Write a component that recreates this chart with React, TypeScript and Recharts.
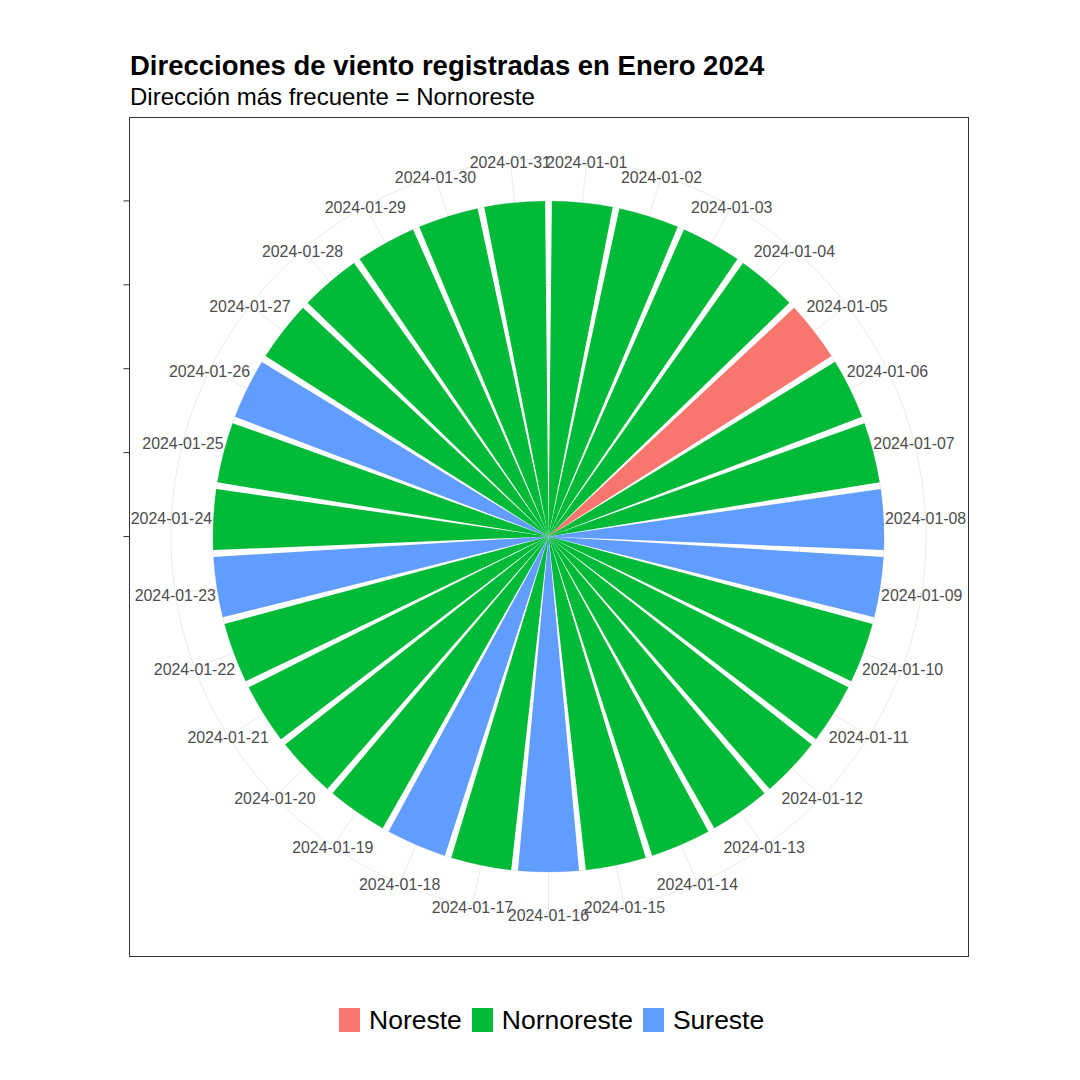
import React from "react";
import { PieChart, Pie, Cell } from "recharts";

const DATES = [
  "2024-01-01", "2024-01-02", "2024-01-03", "2024-01-04", "2024-01-05",
  "2024-01-06", "2024-01-07", "2024-01-08", "2024-01-09", "2024-01-10",
  "2024-01-11", "2024-01-12", "2024-01-13", "2024-01-14", "2024-01-15",
  "2024-01-16", "2024-01-17", "2024-01-18", "2024-01-19", "2024-01-20",
  "2024-01-21", "2024-01-22", "2024-01-23", "2024-01-24", "2024-01-25",
  "2024-01-26", "2024-01-27", "2024-01-28", "2024-01-29", "2024-01-30",
  "2024-01-31",
];

const DIRECTIONS = [
  "Nornoreste", "Nornoreste", "Nornoreste", "Nornoreste", "Noreste",
  "Nornoreste", "Nornoreste", "Sureste", "Sureste", "Nornoreste",
  "Nornoreste", "Nornoreste", "Nornoreste", "Nornoreste", "Nornoreste",
  "Sureste", "Nornoreste", "Sureste", "Nornoreste", "Nornoreste",
  "Nornoreste", "Nornoreste", "Sureste", "Nornoreste", "Nornoreste",
  "Sureste", "Nornoreste", "Nornoreste", "Nornoreste", "Nornoreste",
  "Nornoreste",
];

// one record per day
const COUNTS = [
  1, 1, 1, 1, 1, 1, 1, 1, 1, 1, 1, 1, 1, 1, 1, 1,
  1, 1, 1, 1, 1, 1, 1, 1, 1, 1, 1, 1, 1, 1, 1,
];

const CATEGORIES = ["Noreste", "Nornoreste", "Sureste"];
const PALETTE = ["#F8766D", "#00BA38", "#619CFF"];
const RADIAL_TICKS = [0, 0.25, 0.5, 0.75, 1];

const data = DATES.map((d, i) => ({ fecha: d, direccion: DIRECTIONS[i], n: COUNTS[i] }));
const colorOf = (dir: string) => PALETTE[CATEGORIES.indexOf(dir)];

const FONT = '"Liberation Sans", Arial, Helvetica, sans-serif';

// panel geometry
const PX = 129;
const PY = 117;
const PW = 839;
const PH = 839;
const CX = PW / 2;
const CY = PH / 2;
const R = 0.4 * PW;
const R_OUT = 0.45 * PW;
const STEP = 360 / data.length;
const GAP = STEP * 0.1;
const RAD = Math.PI / 180;

function Grid() {
  const gx = PX + CX;
  const gy = PY + CY;
  return (
    <svg width={1080} height={1080} style={{ position: "absolute", left: 0, top: 0 }}>
      {RADIAL_TICKS.map((t) => (
        <circle key={t} cx={gx} cy={gy} r={t * R} fill="none" stroke="#EBEBEB" strokeWidth={1} />
      ))}
      <circle cx={gx} cy={gy} r={R_OUT} fill="none" stroke="#EBEBEB" strokeWidth={1} />
      {data.map((d, i) => {
        const a = (90 - (i + 0.5) * STEP) * RAD;
        return (
          <line
            key={d.fecha}
            x1={gx}
            y1={gy}
            x2={gx + R_OUT * Math.cos(a)}
            y2={gy - R_OUT * Math.sin(a)}
            stroke="#EBEBEB"
            strokeWidth={1}
          />
        );
      })}
      {RADIAL_TICKS.map((t) => (
        <line key={t} x1={PX - 5.5} x2={PX} y1={gy - t * R} y2={gy - t * R} stroke="#333333" strokeWidth={1} />
      ))}
    </svg>
  );
}

const renderLabel = (props: any) => {
  const { cx, cy, midAngle, payload } = props;
  const x = cx + R_OUT * Math.cos(-midAngle * RAD);
  const y = cy + R_OUT * Math.sin(-midAngle * RAD) + 1.5;
  return (
    <text
      x={x}
      y={y}
      textAnchor="middle"
      dominantBaseline="central"
      fill="#4D4D4D"
      fontSize={15.9}
      fontFamily={FONT}
    >
      {payload.fecha}
    </text>
  );
};

export default function App() {
  return (
    <div style={{ position: "absolute", left: 0, top: 0, width: 1080, height: 1080, background: "#fff", fontFamily: FONT }}>
      <div style={{ position: "absolute", left: 130, top: 52, fontSize: 27.5, fontWeight: 700, lineHeight: 1, color: "#000" }}>
        Direcciones de viento registradas en Enero 2024
      </div>
      <div style={{ position: "absolute", left: 130, top: 85, fontSize: 24, lineHeight: 1, color: "#000" }}>
        Dirección más frecuente = Nornoreste
      </div>
      <Grid />
      <div style={{ position: "absolute", left: PX, top: PY }}>
        <PieChart width={PW} height={PH} margin={{ top: 0, right: 0, bottom: 0, left: 0 }}>
          <Pie
            data={data}
            dataKey="n"
            nameKey="fecha"
            cx={CX}
            cy={CY}
            innerRadius={0}
            outerRadius={R}
            startAngle={90 - GAP / 2}
            endAngle={90 - GAP / 2 - 360}
            paddingAngle={GAP}
            stroke="none"
            label={renderLabel}
            labelLine={false}
            isAnimationActive={false}
          >
            {data.map((d) => (
              <Cell key={d.fecha} fill={colorOf(d.direccion)} />
            ))}
          </Pie>
        </PieChart>
      </div>
      <div
        style={{
          position: "absolute",
          left: PX,
          top: PY,
          width: PW - 1,
          height: PH - 1,
          border: "1px solid #333333",
          pointerEvents: "none",
        }}
      />
      <div
        style={{
          position: "absolute",
          left: 339,
          top: 1007,
          display: "flex",
          alignItems: "center",
          fontSize: 26.5,
          lineHeight: 1,
          whiteSpace: "nowrap",
        }}
      >
        {CATEGORIES.map((c, i) => (
          <div key={c} style={{ display: "flex", alignItems: "center", marginRight: 10 }}>
            <div style={{ width: 21, height: 24, background: PALETTE[i], marginRight: 9 }} />
            <span>{c}</span>
          </div>
        ))}
      </div>
    </div>
  );
}
